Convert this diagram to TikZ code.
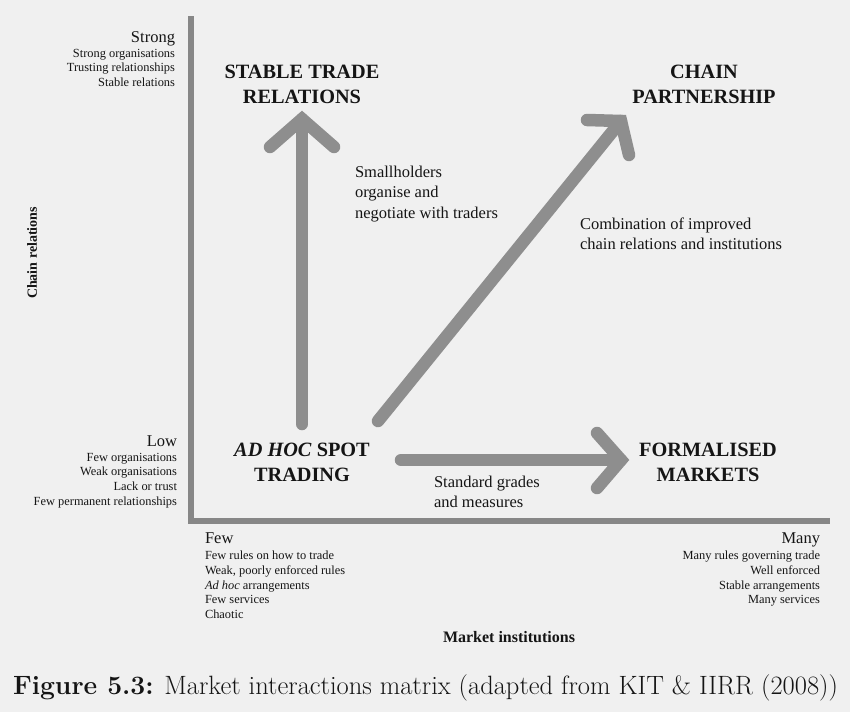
\documentclass[tikz,border=0pt]{standalone}
\usepackage{fontspec}
\newfontfamily\tnr{Liberation Serif}
\definecolor{paper}{HTML}{F0F0F0}
\definecolor{flowgray}{HTML}{8E8E8E}
\definecolor{axisgray}{HTML}{878787}
\definecolor{ink}{HTML}{151515}
\begin{document}
\begin{tikzpicture}[x=1pt,y=-1pt,
  every node/.style={inner sep=0pt, outer sep=0pt, text=ink},
  listtext/.style={font=\tnr\fontsize{12.4}{14.8}\selectfont},
  headtext/.style={font=\tnr\fontsize{16.5}{19}\selectfont},
  quadtext/.style={font=\tnr\bfseries\fontsize{20.3}{25}\selectfont, align=center},
  notetext/.style={font=\tnr\fontsize{16.5}{20.5}\selectfont, align=left},
  axistitle/.style={font=\tnr\bfseries\fontsize{14}{16}\selectfont},
  axisline/.style={draw=axisgray, line width=6pt},
  flow/.style={draw=flowgray, line width=12.5pt, line cap=round},
  barb/.style={flow, line join=miter}]

% canvas
\fill[paper] (0,0) rectangle (850,712);
\useasboundingbox (0,0) rectangle (850,712);

% axes
\coordinate (ytop) at (191,16);
\coordinate (origin) at (191,521);
\coordinate (xend) at (830,521);
\draw[axisline] (ytop) -- (origin) -- (xend);

% vertical axis labels
\node[headtext, anchor=base east] (strong) at (175,42) {Strong};
\node[listtext, anchor=north east, align=right] (stronglist) at (175,48.8)
  {Strong organisations\\Trusting relationships\\Stable relations};
\node[headtext, anchor=base east] (low) at (177,446) {Low};
\node[listtext, anchor=north east, align=right] (lowlist) at (177,452.8)
  {Few organisations\\Weak organisations\\Lack or trust\\Few permanent relationships};
\node[axistitle, rotate=90] (ytitle) at (32,253) {Chain relations};

% horizontal axis labels
\node[headtext, anchor=base west] (few) at (205,543) {Few};
\node[listtext, anchor=north west, align=left] (fewlist) at (205,550.8)
  {Few rules on how to trade\\Weak, poorly enforced rules\\\textit{Ad hoc} arrangements\\Few services\\Chaotic};
\node[headtext, anchor=base east] (many) at (820,543) {Many};
\node[listtext, anchor=north east, align=right] (manylist) at (820,550.8)
  {Many rules governing trade\\Well enforced\\Stable arrangements\\Many services};
\node[axistitle, font=\tnr\bfseries\fontsize{16}{18}\selectfont] (xtitle) at (509,637) {Market institutions};

% quadrants
\node[quadtext] (stable) at (302,84.5) {STABLE TRADE\\RELATIONS};
\node[quadtext] (chain) at (704,84.5) {CHAIN\\PARTNERSHIP};
\node[quadtext] (adhoc) at (302,462.5) {\textit{AD HOC} SPOT\\TRADING};
\node[quadtext] (formal) at (708,462.5) {FORMALISED\\MARKETS};

% transition notes
\node[notetext, anchor=north west] (organise) at (355,165.8)
  {Smallholders\\organise and\\negotiate with traders};
\node[notetext, anchor=north west] (combine) at (580,217.8)
  {Combination of improved\\chain relations and institutions};
\node[notetext, anchor=north west] (grades) at (434,475.8)
  {Standard grades\\and measures};

% arrow: spot trading -> stable trade relations
\coordinate (vtail) at (302,424);
\coordinate (vtip) at (302,119);
\coordinate (vl) at (270,147);
\coordinate (vr) at (334,147);
\draw[flow] (vtail) -- (vtip);
\draw[barb] (vl) -- (vtip) -- (vr);

% arrow: spot trading -> chain partnership
\coordinate (dtail) at (378,421);
\coordinate (dtip) at (621,121);
\coordinate (dl) at (587,120);
\coordinate (dr) at (629,155);
\draw[flow] (dtail) -- (dtip);
\draw[barb] (dl) -- (dtip) -- (dr);

% arrow: spot trading -> formalised markets
\coordinate (htail) at (401,460);
\coordinate (htip) at (621,460);
\coordinate (hl) at (597,433);
\coordinate (hr) at (597,488);
\draw[flow] (htail) -- (htip);
\draw[barb] (hl) -- (htip) -- (hr);

% caption
\node[font=\fontsize{26.5}{30}\selectfont] (caption) at (425.5,688)
  {\textbf{Figure 5.3:} Market interactions matrix (adapted from KIT \& IIRR (2008))};
\end{tikzpicture}
\end{document}
